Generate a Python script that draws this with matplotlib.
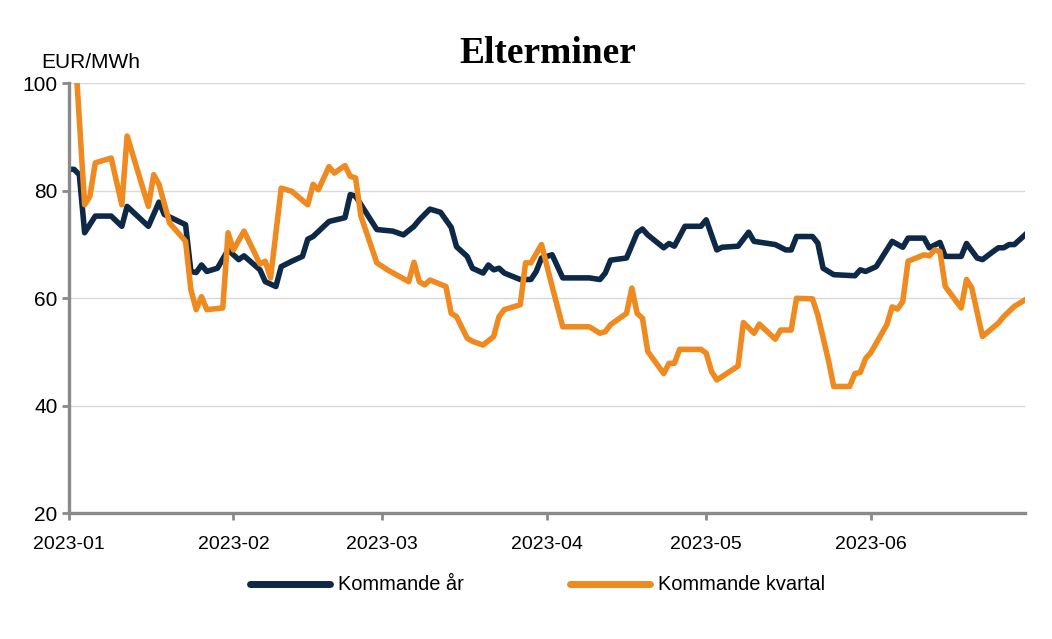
import pandas as pd
import matplotlib.pyplot as plt
import matplotlib.dates as mdates
from matplotlib.lines import Line2D

# Kommande år (next-year contract), EUR/MWh
year_dates = ["2023-01-01", "2023-01-02", "2023-01-03", "2023-01-04", "2023-01-06", "2023-01-09",
              "2023-01-11", "2023-01-12", "2023-01-16", "2023-01-18", "2023-01-19", "2023-01-23",
              "2023-01-24", "2023-01-25", "2023-01-26", "2023-01-27", "2023-01-29", "2023-01-31",
              "2023-02-02", "2023-02-03", "2023-02-06", "2023-02-07", "2023-02-09", "2023-02-10",
              "2023-02-12", "2023-02-14", "2023-02-15", "2023-02-16", "2023-02-19", "2023-02-22",
              "2023-02-23", "2023-02-24", "2023-02-28", "2023-03-03", "2023-03-05", "2023-03-07",
              "2023-03-08", "2023-03-10", "2023-03-12", "2023-03-14", "2023-03-15", "2023-03-17",
              "2023-03-18", "2023-03-20", "2023-03-21", "2023-03-22", "2023-03-23", "2023-03-24",
              "2023-03-27", "2023-03-29", "2023-03-30", "2023-03-31", "2023-04-02", "2023-04-04",
              "2023-04-09", "2023-04-11", "2023-04-12", "2023-04-13", "2023-04-16", "2023-04-18",
              "2023-04-19", "2023-04-20", "2023-04-23", "2023-04-24", "2023-04-25", "2023-04-27",
              "2023-04-30", "2023-05-01", "2023-05-03", "2023-05-04", "2023-05-07", "2023-05-09",
              "2023-05-10", "2023-05-14", "2023-05-16", "2023-05-17", "2023-05-18", "2023-05-21",
              "2023-05-22", "2023-05-23", "2023-05-24", "2023-05-25", "2023-05-29", "2023-05-30",
              "2023-05-31", "2023-06-02", "2023-06-05", "2023-06-07", "2023-06-08", "2023-06-11",
              "2023-06-12", "2023-06-14", "2023-06-15", "2023-06-18", "2023-06-19", "2023-06-21",
              "2023-06-22", "2023-06-24", "2023-06-25", "2023-06-26", "2023-06-27", "2023-06-28",
              "2023-06-30"]
year_vals = [84.0, 84.0, 83.0, 72.2, 75.3, 75.3,
             73.4, 77.1, 73.4, 77.9, 75.6, 73.7,
             65.0, 64.8, 66.2, 65.0, 65.6, 69.0,
             67.2, 67.9, 65.3, 63.1, 62.2, 65.9,
             66.9, 67.8, 71.0, 71.5, 74.3, 75.0,
             79.3, 79.0, 72.8, 72.5, 71.8, 73.4,
             74.6, 76.6, 76.0, 73.2, 69.6, 67.8,
             65.6, 64.7, 66.2, 65.3, 65.6, 64.7,
             63.5, 63.5, 65.0, 67.5, 68.1, 63.8,
             63.8, 63.5, 64.7, 67.1, 67.5, 72.2,
             72.9, 71.8, 69.4, 70.2, 69.7, 73.4,
             73.4, 74.6, 69.0, 69.5, 69.7, 72.3,
             70.6, 70.0, 69.0, 69.0, 71.5, 71.5,
             70.3, 65.6, 65.0, 64.4, 64.2, 65.3,
             65.0, 65.9, 70.6, 69.5, 71.2, 71.2,
             69.4, 70.4, 67.8, 67.8, 70.2, 67.5,
             67.2, 68.7, 69.4, 69.4, 70.0, 70.0,
             71.8]

# Kommande kvartal (next-quarter contract), EUR/MWh
quarter_dates = ["2023-01-01", "2023-01-04", "2023-01-05", "2023-01-06", "2023-01-09", "2023-01-11",
                 "2023-01-12", "2023-01-16", "2023-01-17", "2023-01-18", "2023-01-20", "2023-01-23",
                 "2023-01-24", "2023-01-25", "2023-01-26", "2023-01-27", "2023-01-30", "2023-01-31",
                 "2023-02-01", "2023-02-03", "2023-02-06", "2023-02-07", "2023-02-08", "2023-02-10",
                 "2023-02-12", "2023-02-15", "2023-02-16", "2023-02-17", "2023-02-19", "2023-02-20",
                 "2023-02-22", "2023-02-23", "2023-02-24", "2023-02-25", "2023-02-28", "2023-03-02",
                 "2023-03-06", "2023-03-07", "2023-03-08", "2023-03-09", "2023-03-10", "2023-03-13",
                 "2023-03-14", "2023-03-15", "2023-03-17", "2023-03-18", "2023-03-20", "2023-03-22",
                 "2023-03-23", "2023-03-24", "2023-03-27", "2023-03-28", "2023-03-29", "2023-03-31",
                 "2023-04-02", "2023-04-04", "2023-04-09", "2023-04-11", "2023-04-12", "2023-04-13",
                 "2023-04-16", "2023-04-17", "2023-04-18", "2023-04-19", "2023-04-20", "2023-04-23",
                 "2023-04-24", "2023-04-25", "2023-04-26", "2023-04-30", "2023-05-01", "2023-05-02",
                 "2023-05-03", "2023-05-07", "2023-05-08", "2023-05-10", "2023-05-11", "2023-05-14",
                 "2023-05-15", "2023-05-17", "2023-05-18", "2023-05-21", "2023-05-22", "2023-05-24",
                 "2023-05-25", "2023-05-28", "2023-05-29", "2023-05-30", "2023-05-31", "2023-06-01",
                 "2023-06-04", "2023-06-05", "2023-06-06", "2023-06-07", "2023-06-08", "2023-06-11",
                 "2023-06-12", "2023-06-13", "2023-06-14", "2023-06-15", "2023-06-18", "2023-06-19",
                 "2023-06-20", "2023-06-22", "2023-06-25", "2023-06-26", "2023-06-28", "2023-06-30"]
quarter_vals = [125.0, 77.4, 79.0, 85.2, 86.1, 77.4,
                90.2, 77.1, 83.0, 81.2, 74.0, 70.6,
                61.6, 57.9, 60.3, 57.9, 58.2, 72.2,
                69.0, 72.5, 66.4, 66.9, 63.8, 80.5,
                79.9, 77.4, 81.2, 80.2, 84.5, 83.3,
                84.7, 82.7, 82.4, 75.3, 66.6, 65.3,
                63.1, 66.7, 63.1, 62.5, 63.4, 62.2,
                57.2, 56.6, 52.6, 52.0, 51.3, 52.9,
                56.6, 57.9, 58.8, 66.6, 66.6, 70.0,
                62.2, 54.7, 54.7, 53.5, 53.8, 55.1,
                57.2, 61.9, 57.2, 56.3, 50.1, 46.0,
                47.9, 47.9, 50.5, 50.5, 49.8, 46.4,
                44.8, 47.4, 55.5, 53.5, 55.2, 52.4,
                54.1, 54.1, 60.0, 59.9, 56.9, 48.5,
                43.6, 43.6, 46.0, 46.2, 48.8, 49.9,
                55.1, 58.4, 58.0, 59.4, 66.9, 68.1,
                67.9, 69.0, 68.7, 62.2, 58.2, 63.5,
                61.9, 52.9, 55.4, 56.6, 58.5, 59.7]

y_ticks = [20, 40, 60, 80, 100]

navy = "#0d2947"
orange = "#ee8a1f"

plt.rcParams["font.family"] = ["Liberation Sans", "DejaVu Sans"]

fig = plt.figure(figsize=(10.52, 6.39), dpi=100)
ax = fig.add_axes([0.0653, 0.1967, 0.909, 0.6729])

ax.plot(pd.to_datetime(year_dates), year_vals, color=navy, linewidth=4,
        solid_joinstyle="round", zorder=3)
ax.plot(pd.to_datetime(quarter_dates), quarter_vals, color=orange, linewidth=4,
        solid_joinstyle="round", zorder=3)

ax.set_xlim(pd.Timestamp("2023-01-01"), pd.Timestamp("2023-06-30"))
ax.set_ylim(20, 100)
ax.set_yticks(y_ticks)
ax.xaxis.set_major_locator(mdates.MonthLocator())
ax.xaxis.set_major_formatter(mdates.DateFormatter("%Y-%m"))

ax.grid(axis="y", color="#d9d9d9", linewidth=1)
ax.set_axisbelow(True)
for s in ["top", "right"]:
    ax.spines[s].set_visible(False)
for s in ["left", "bottom"]:
    ax.spines[s].set_color("#8a8a8a")
    ax.spines[s].set_linewidth(2.4)
    ax.spines[s].set_zorder(4)
ax.tick_params(axis="both", colors="#8a8a8a", width=2, length=5, labelcolor="black")
ax.tick_params(axis="x", pad=11, labelsize=14)
ax.tick_params(axis="y", pad=3, labelsize=15)

fig.text(0.039, 1 - 68 / 639, "EUR/MWh", fontsize=15, va="baseline", ha="left")
fig.text(0.521, 1 - 63 / 639, "Elterminer", fontsize=27, fontweight="bold",
         family=["Liberation Serif", "DejaVu Serif"], va="baseline", ha="center")

handles = [Line2D([0], [0], color=navy, linewidth=5, solid_capstyle="round"),
           Line2D([0], [0], color=orange, linewidth=5, solid_capstyle="round")]
fig.legend(handles, ["Kommande år", "Kommande kvartal"], loc="center", ncol=2,
           bbox_to_anchor=(0.511, 1 - 585 / 639), frameon=False, fontsize=14.4,
           handlelength=4.0, handletextpad=0.4, columnspacing=5.3)

fig.savefig("out.png", dpi=100)
